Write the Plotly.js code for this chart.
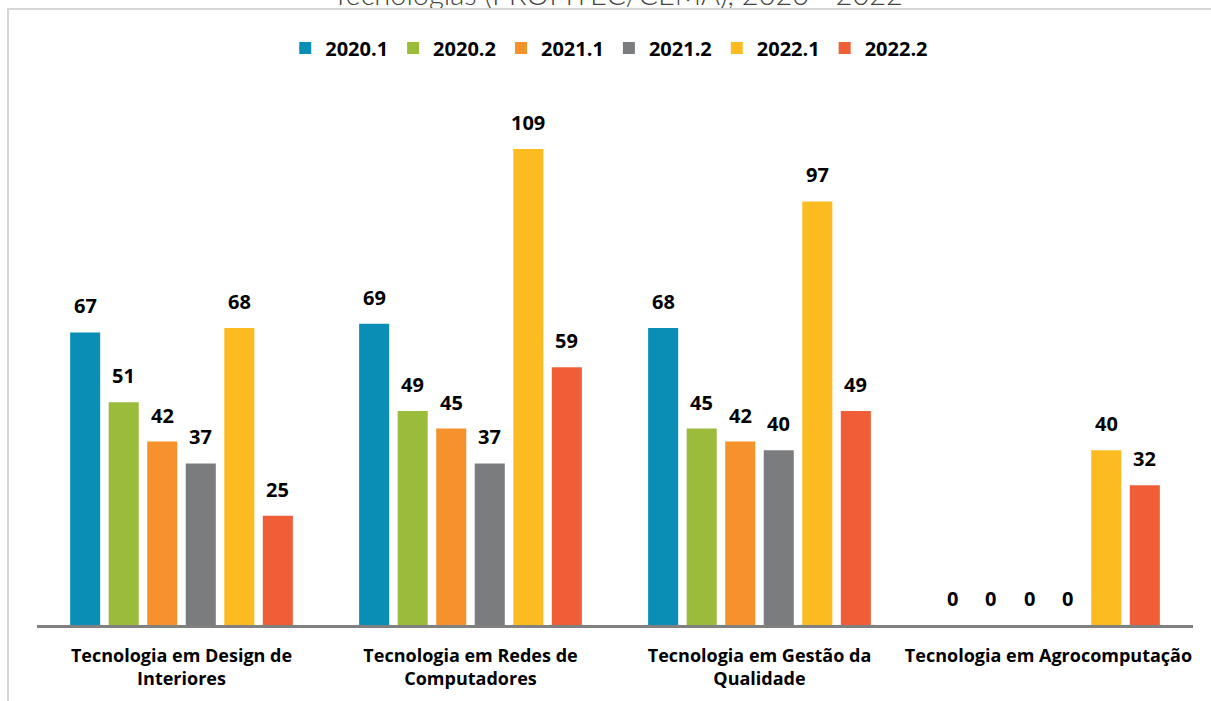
<!DOCTYPE html>
<html>
<head>
<meta charset="utf-8">
<script src="https://cdn.plot.ly/plotly-3.0.1.min.js"></script>
<style>
  html, body { margin: 0; padding: 0; background: #fff; }
  #wrap { position: relative; width: 1211px; height: 701px; }
  #chart { width: 1211px; height: 701px; }
  #frame { position: absolute; left: 7px; top: 8px; right: 0; bottom: 0;
           border-top: 2px solid #d6d6d6; border-left: 2px solid #d6d6d6; pointer-events: none; }
</style>
</head>
<body>
<div id="wrap">
  <div id="chart"></div>
  <div id="frame"></div>
</div>
<script>
const categories = [
  "Tecnologia em Design de<br>Interiores",
  "Tecnologia em Redes de<br>Computadores",
  "Tecnologia em Gestão da<br>Qualidade",
  "Tecnologia em Agrocomputação"
];
const seriesNames = ["2020.1", "2020.2", "2021.1", "2021.2", "2022.1", "2022.2"];
const v2020_1 = [67, 69, 68, 0];
const v2020_2 = [51, 49, 45, 0];
const v2021_1 = [42, 45, 42, 0];
const v2021_2 = [37, 37, 40, 0];
const v2022_1 = [68, 109, 97, 40];
const v2022_2 = [25, 59, 49, 32];
const seriesValues = [v2020_1, v2020_2, v2021_1, v2021_2, v2022_1, v2022_2];
const colors = ["#0a8eb5", "#9bbb3b", "#f5922b", "#7a7c7d", "#fdbb22", "#f05e37"];
const titleText = "Tecnologias (PROFITEC/CEMA), 2020 - 2022";

const BARGAP = 0.2;
const FONT = "'Open Sans', 'Liberation Sans', sans-serif";

const traces = seriesNames.map((name, s) => ({
  type: "bar",
  name: name,
  x: categories,
  y: seriesValues[s],
  marker: { color: colors[s] },
  hoverinfo: "x+y+name"
}));

const n = seriesNames.length;
const annotations = [];
seriesValues.forEach((vals, s) => {
  vals.forEach((v, i) => {
    annotations.push({
      xref: "x", yref: "y",
      x: i + (s - (n - 1) / 2) * (1 - BARGAP) / n,
      y: v,
      text: String(v),
      showarrow: false,
      yanchor: "bottom",
      yshift: 11,
      font: { family: FONT, size: 20, color: "#000", weight: 700 }
    });
  });
});

const layout = {
  width: 1211, height: 701,
  paper_bgcolor: "#ffffff", plot_bgcolor: "#ffffff",
  margin: { l: 37, r: 18, t: 101, b: 76 },
  barmode: "group",
  bargap: BARGAP,
  bargroupgap: 0.22,
  title: {
    text: titleText,
    x: 0.51, xanchor: "center",
    yref: "container", y: 1 - 5 / 701, yanchor: "bottom",
    font: { family: "'Lato', 'Open Sans', sans-serif", size: 29, color: "#444", weight: 300 }
  },
  showlegend: true,
  legend: {
    orientation: "h",
    x: 0.495, xanchor: "center",
    yref: "container", y: 1 - 48 / 701, yanchor: "middle",
    font: { family: FONT, size: 20, color: "#000", weight: 700 },
    traceorder: "normal",
    itemclick: false
  },
  xaxis: {
    type: "category",
    showline: true, linecolor: "#808080", linewidth: 3,
    showgrid: false, zeroline: false, ticks: "",
    ticklabelstandoff: 12,
    tickfont: { family: FONT, size: 18, color: "#000", weight: 700 },
    fixedrange: true
  },
  yaxis: {
    range: [0, 120],
    visible: false,
    showgrid: false, zeroline: false,
    fixedrange: true
  },
  annotations: annotations
};

Plotly.newPlot("chart", traces, layout, { displayModeBar: false, staticPlot: true });
</script>
</body>
</html>
